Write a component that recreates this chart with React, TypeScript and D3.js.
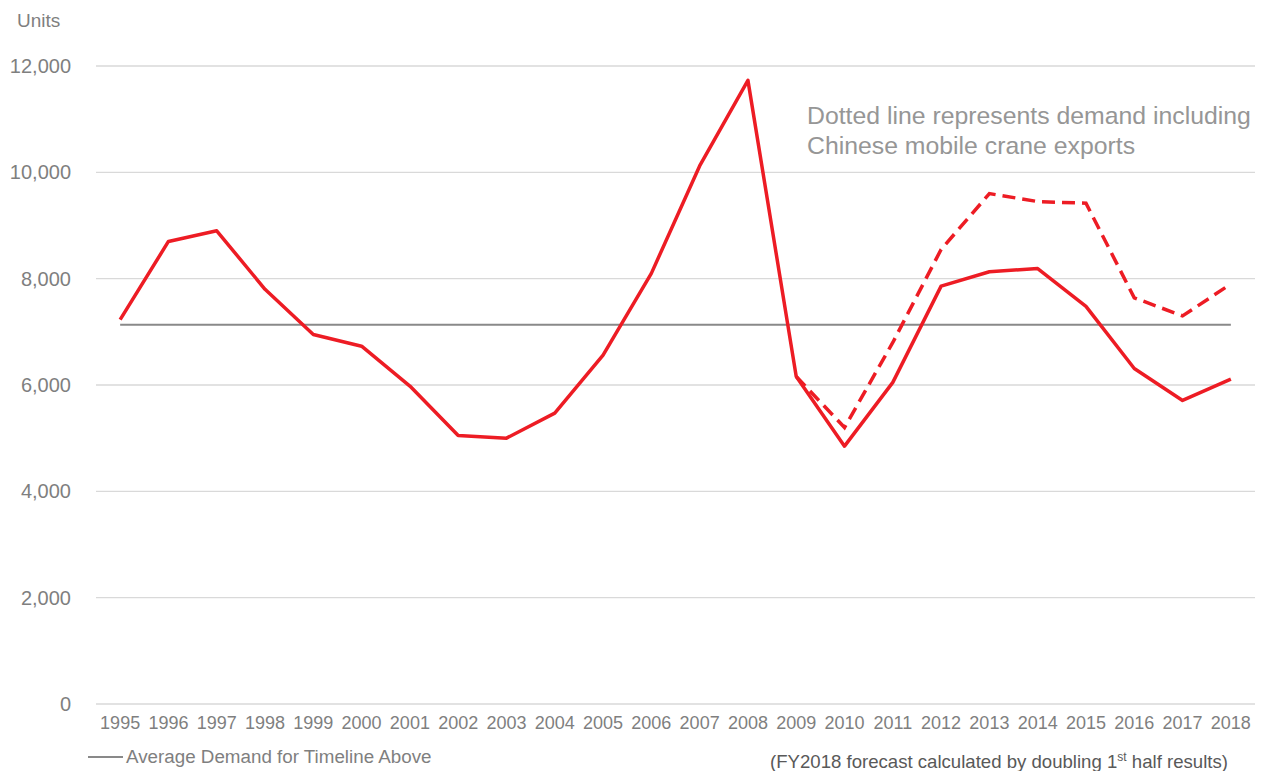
import React, { useRef, useEffect } from 'react';
import * as d3 from 'd3';

const years = ['1995', '1996', '1997', '1998', '1999', '2000', '2001', '2002', '2003', '2004', '2005', '2006',
    '2007', '2008', '2009', '2010', '2011', '2012', '2013', '2014', '2015', '2016', '2017', '2018'];

const demand = [7230, 8700, 8900, 7800, 6950, 6730, 5980, 5050, 5000, 5470, 6560, 8100,
    10120, 11730, 6160, 4850, 6050, 7860, 8130, 8190, 7480, 6310, 5710, 6110];

// demand incl. Chinese mobile crane exports, 2009 onwards
const exportYears = ['2009', '2010', '2011', '2012', '2013', '2014', '2015', '2016', '2017', '2018'];
const demandWithExports = [6160, 5200, 6800, 8550, 9600, 9450, 9420, 7640, 7300, 7900];

const yTicks = [0, 2000, 4000, 6000, 8000, 10000, 12000];

const App: React.FC = () => {
    const svgRef = useRef<SVGSVGElement>(null);

    useEffect(() => {
        if (!svgRef.current) return;

        const width = 1265;
        const height = 771;

        d3.select(svgRef.current).selectAll("*").remove();

        const svg = d3.select(svgRef.current)
            .attr('width', width)
            .attr('height', height)
            .style('font-family', 'Arial, "Liberation Sans", sans-serif');

        const x = d3.scaleBand<string>()
            .domain(years)
            .range([96, 1255]);

        const y = d3.scaleLinear()
            .domain([0, 12000])
            .range([704, 66]);

        const cx = (yr: string) => x(yr)! + x.bandwidth() / 2;

        // gridlines
        svg.append('g')
            .selectAll('line')
            .data(yTicks)
            .enter()
            .append('line')
            .attr('x1', 96)
            .attr('x2', 1255)
            .attr('y1', d => y(d))
            .attr('y2', d => y(d))
            .attr('stroke', '#d9d9d9')
            .attr('stroke-width', 1.3);

        // y tick labels
        svg.append('g')
            .selectAll('text')
            .data(yTicks)
            .enter()
            .append('text')
            .attr('x', 71)
            .attr('y', d => y(d))
            .attr('dy', '0.35em')
            .attr('text-anchor', 'end')
            .attr('fill', '#7f7f7f')
            .style('font-size', '20px')
            .text(d => d3.format(',')(d));

        // x tick labels
        svg.append('g')
            .selectAll('text')
            .data(years)
            .enter()
            .append('text')
            .attr('x', d => cx(d))
            .attr('y', 729)
            .attr('text-anchor', 'middle')
            .attr('fill', '#7f7f7f')
            .style('font-size', '18px')
            .text(d => d);

        svg.append('text')
            .attr('x', 17)
            .attr('y', 27)
            .attr('fill', '#7f7f7f')
            .style('font-size', '19px')
            .text('Units');

        // average line
        const avg = d3.mean(demand)!;
        svg.append('line')
            .attr('x1', cx(years[0]))
            .attr('x2', cx(years[years.length - 1]))
            .attr('y1', y(avg))
            .attr('y2', y(avg))
            .attr('stroke', '#898989')
            .attr('stroke-width', 2);

        const line = d3.line<[string, number]>()
            .x(d => cx(d[0]))
            .y(d => y(d[1]));

        svg.append('path')
            .datum(d3.zip(exportYears, demandWithExports) as [string, number][])
            .attr('d', line)
            .attr('fill', 'none')
            .attr('stroke', '#ed1c24')
            .attr('stroke-width', 3.5)
            .attr('stroke-dasharray', '13,7');

        svg.append('path')
            .datum(d3.zip(years, demand) as [string, number][])
            .attr('d', line)
            .attr('fill', 'none')
            .attr('stroke', '#ed1c24')
            .attr('stroke-width', 3.5)
            .attr('stroke-linejoin', 'round');

        // annotation
        const note = svg.append('text')
            .attr('fill', '#969696')
            .style('font-size', '24.8px');
        note.append('tspan').attr('x', 807).attr('y', 124).text('Dotted line represents demand including');
        note.append('tspan').attr('x', 807).attr('y', 154).text('Chinese mobile crane exports');

        // legend
        svg.append('line')
            .attr('x1', 88)
            .attr('x2', 123)
            .attr('y1', 757)
            .attr('y2', 757)
            .attr('stroke', '#898989')
            .attr('stroke-width', 2);

        svg.append('text')
            .attr('x', 126)
            .attr('y', 763)
            .attr('fill', '#7f7f7f')
            .style('font-size', '18.8px')
            .text('Average Demand for Timeline Above');

        const foot = svg.append('text')
            .attr('x', 770)
            .attr('y', 768)
            .attr('fill', '#595959')
            .style('font-size', '18.6px');
        foot.append('tspan').text('(FY2018 forecast calculated by doubling 1');
        foot.append('tspan').attr('dy', -7).style('font-size', '12px').text('st');
        foot.append('tspan').attr('dy', 7).text(' half results)');

    }, []);

    return (
        <svg ref={svgRef} style={{ position: 'absolute', left: 0, top: 0 }}></svg>
    );
};

export default App;
